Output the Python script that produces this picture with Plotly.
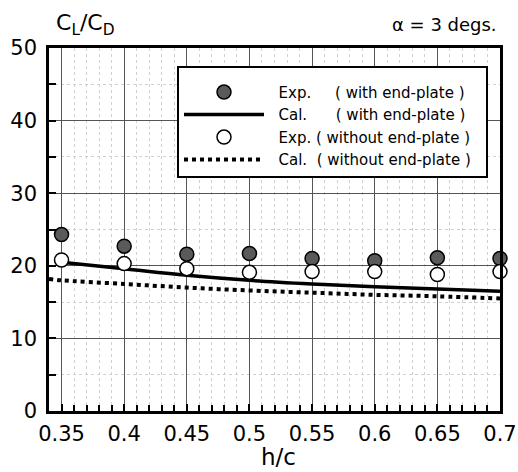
import plotly.graph_objects as go

# ---- data ----
hc = [0.35, 0.40, 0.45, 0.50, 0.55, 0.60, 0.65, 0.70]
exp_with = [24.3, 22.7, 21.6, 21.7, 21.0, 20.7, 21.1, 21.0]
exp_without = [20.8, 20.3, 19.6, 19.1, 19.2, 19.2, 18.8, 19.2]
cal_with_x = [0.35, 0.40, 0.45, 0.50, 0.55, 0.60, 0.65, 0.70]
cal_with = [20.5, 19.6, 18.7, 18.0, 17.5, 17.1, 16.8, 16.5]
cal_without_x = [0.34, 0.35, 0.40, 0.45, 0.50, 0.55, 0.60, 0.65, 0.70]
cal_without = [18.2, 18.0, 17.5, 17.0, 16.6, 16.3, 16.0, 15.8, 15.5]
x_ticks = [0.35, 0.4, 0.45, 0.5, 0.55, 0.6, 0.65, 0.7]
x_ticklabels = ["0.35", "0.4", "0.45", "0.5", "0.55", "0.6", "0.65", "0.7"]
y_ticks = [0, 10, 20, 30, 40, 50]

FONT = "DejaVu Sans, Liberation Sans, Arial, sans-serif"
NB = "\u00a0"
PRE = NB * 2
POST = NB * 2

fig = go.Figure()
fig.add_trace(go.Scatter(
    x=hc, y=exp_with, mode="markers", legendrank=1, cliponaxis=False,
    name=PRE + "Exp." + NB * 5 + "( with end-plate )" + POST,
    marker=dict(size=14, color="#5a5a5a", line=dict(color="black", width=1.5)),
))
fig.add_trace(go.Scatter(
    x=cal_with_x, y=cal_with, mode="lines", legendrank=2, cliponaxis=False,
    name=PRE + "Cal." + NB * 6 + "( with end-plate )" + POST,
    line=dict(color="black", width=3.5, shape="spline"),
))
fig.add_trace(go.Scatter(
    x=hc, y=exp_without, mode="markers", legendrank=3, cliponaxis=False,
    name=PRE + "Exp. ( without end-plate )" + POST,
    marker=dict(size=14, color="white", line=dict(color="black", width=1.5)),
))
fig.add_trace(go.Scatter(
    x=cal_without_x, y=cal_without, mode="lines", legendrank=4, cliponaxis=False,
    name=PRE + "Cal." + NB + " ( without end-plate )" + POST,
    line=dict(color="black", width=4, dash="dot", shape="spline"),
))

axis_common = dict(
    showline=True, linecolor="black", linewidth=2.5, mirror=True,
    ticks="inside", tickcolor="black", ticklen=7, tickwidth=1.5,
    showgrid=True, gridcolor="#555555", gridwidth=1,
    zeroline=False, automargin=False,
    tickfont=dict(family=FONT, size=21, color="black"),
)

fig.update_xaxes(
    range=[0.34, 0.70], tickvals=x_ticks, ticktext=x_ticklabels,
    ticklabelstandoff=2,
    minor=dict(dtick=0.01, tick0=0.34, ticks="inside", ticklen=6, tickcolor="black", tickwidth=1.5,
               showgrid=True, gridcolor="#d0d0d0", griddash="dot", gridwidth=1),
    **axis_common,
)
fig.update_yaxes(
    range=[0, 50], tickvals=y_ticks,
    ticklabelstandoff=5,
    minor=dict(dtick=5, ticks="inside", ticklen=7, tickcolor="black", tickwidth=1.5,
               showgrid=True, gridcolor="#d0d0d0", griddash="dot", gridwidth=1),
    **axis_common,
)

fig.update_layout(
    width=518, height=472,
    margin=dict(l=49, r=18, t=48, b=61, autoexpand=False),
    plot_bgcolor="white", paper_bgcolor="white",
    font=dict(family=FONT, color="black"),
    showlegend=True,
    legend=dict(
        x=(177 - 49) / 451, y=1 - (66 - 48) / 363, xanchor="left", yanchor="top",
        bgcolor="white", bordercolor="black", borderwidth=2,
        font=dict(family=FONT, size=15, color="black"),
        title=dict(text=NB, font=dict(family=FONT, size=6)),
        itemwidth=80, tracegroupgap=0,
    ),
    annotations=[
        dict(text="C<sub>L</sub>/C<sub>D</sub>", xref="paper", yref="paper",
             x=(54 - 49) / 451, y=1 + (48 - 8) / 363, xanchor="left", yanchor="top",
             showarrow=False, font=dict(family=FONT, size=22, color="black")),
        dict(text="\u03b1 = 3 degs.", xref="paper", yref="paper",
             x=(499 - 49) / 451, y=1 + (48 - 25) / 363, xanchor="right", yanchor="middle",
             showarrow=False, font=dict(family=FONT, size=18, color="black")),
        dict(text="h/c", xref="paper", yref="paper",
             x=(278 - 49) / 451, y=-(457 - 411) / 363, xanchor="center", yanchor="middle",
             showarrow=False, font=dict(family=FONT, size=23, color="black")),
    ],
)

fig.write_html(
    "out.html",
    config={"displayModeBar": False},
    post_script="document.body.style.margin='0';document.body.style.padding='0';",
)
